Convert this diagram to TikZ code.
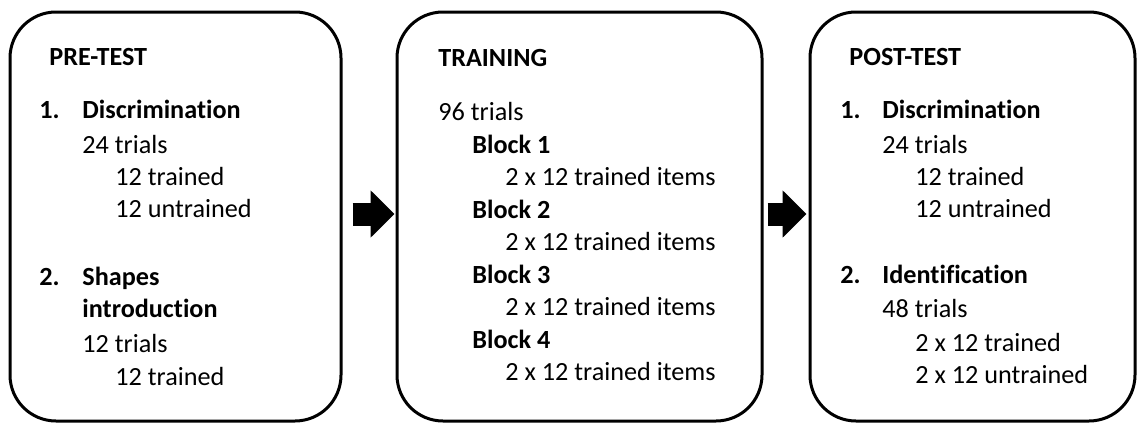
\documentclass[tikz,border=0pt]{standalone}
\usepackage{fontspec}
\setmainfont{Carlito}[Ligatures=NoCommon]
\usetikzlibrary{arrows.meta}

\begin{document}
\begin{tikzpicture}[
    x=0.5pt, y=-0.5pt,
    stage/.style={rectangle,draw,line width=1.5pt,rounded corners=23pt,minimum height=204.5pt},
    txt/.style={anchor=base west,inner sep=0pt,font=\fontsize{13.1}{15}\selectfont},
    hd/.style={txt,font=\fontsize{13.1}{15}\selectfont\bfseries},
    flow/.style={line width=11.5pt,-{Triangle[length=12pt,width=23pt]}}
]
    \useasboundingbox (0,0) rectangle (1137,423);

    % Pre-test
    \begin{scope}
        \node[stage,minimum width=165.5pt] (pre) at (175.5,216.5) {};
        \node[hd] (preT) at (49,65) {PRE-TEST};
        \node[hd] (preN1) at (39,119) {1.};
        \node[hd] (preDis) at (82,119) {Discrimination};
        \node[txt] (preDisN) at (82,153) {24 trials};
        \node[txt] (preDisA) at (115,185) {12 trained};
        \node[txt] (preDisB) at (115,217) {12 untrained};
        \node[hd] (preN2) at (39,285) {2.};
        \node[hd] (preSh) at (82,285) {Shapes};
        \node[hd] (preIn) at (82,317) {introduction};
        \node[txt] (preShN) at (82,352) {12 trials};
        \node[txt] (preShA) at (115,385) {12 trained};
    \end{scope}

    % Training
    \begin{scope}
        \node[stage,minimum width=182.5pt] (train) at (579.5,216.5) {};
        \node[hd] (trT) at (438,67) {TRAINING};
        \node[txt] (trN) at (438,120) {96 trials};
        \foreach \i/\y in {1/153,2/218,3/283,4/348} {
            \node[hd] (blk\i) at (472,\y) {Block \i};
            \node[txt] (itm\i) at (505,\y+32.5) {2 x 12 trained items};
        }
    \end{scope}

    % Post-test
    \begin{scope}
        \node[stage,minimum width=162.5pt] (post) at (972.5,216.5) {};
        \node[hd] (postT) at (849,65) {POST-TEST};
        \node[hd] (postN1) at (840,119) {1.};
        \node[hd] (postDis) at (882,119) {Discrimination};
        \node[txt] (postDisN) at (882,153) {24 trials};
        \node[txt] (postDisA) at (915,185) {12 trained};
        \node[txt] (postDisB) at (915,217) {12 untrained};
        \node[hd] (postN2) at (840,283) {2.};
        \node[hd] (postId) at (882,283) {Identification};
        \node[txt] (postIdN) at (882,317) {48 trials};
        \node[txt] (postIdA) at (915,351) {2 x 12 trained};
        \node[txt] (postIdB) at (915,383) {2 x 12 untrained};
    \end{scope}

    % block arrows
    \draw[flow,shorten <=5pt,shorten >=0.5pt] ([yshift=1.25pt]pre.east) -- ([yshift=1.25pt]train.west);
    \draw[flow,shorten <=2pt,shorten >=1pt] ([yshift=1.25pt]train.east) -- ([yshift=1.25pt]post.west);
\end{tikzpicture}
\end{document}
